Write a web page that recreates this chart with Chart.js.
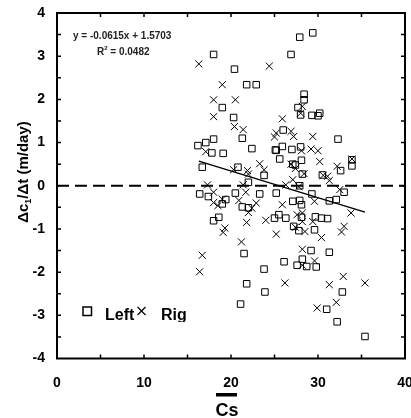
<!DOCTYPE html>
<html>
<head>
<meta charset="utf-8">
<script src="https://cdn.jsdelivr.net/npm/chart.js@4/dist/chart.umd.min.js"></script>
<style>
  html, body { margin: 0; padding: 0; background: #fff; }
  #wrap { width: 411px; height: 418px; }
</style>
</head>
<body>
<div id="wrap"><canvas id="chart" width="411" height="418"></canvas></div>
<script>
// Left wall points (squares)
const leftX = [29.4, 27.9, 18.0, 26.9, 20.4, 21.8, 22.9, 28.4, 28.4, 19.0, 27.7, 28.0, 29.3, 30.0, 30.2, 20.3,
    26.0, 32.3, 18.0, 21.3, 16.2, 17.1, 17.8, 19.1, 22.4, 25.1, 25.2, 25.9, 27.0, 28.0, 25.6, 27.1, 27.4, 28.1,
    33.9, 33.9, 16.7, 20.8, 23.8, 28.2, 30.5, 32.6, 22.0, 27.9, 16.4, 17.4, 20.5, 23.3, 25.2, 29.3, 33.0, 19.4,
    19.0, 21.3, 22.0, 27.1, 27.9, 28.1, 31.3, 32.1, 18.6, 18.0, 25.0, 25.5, 26.3, 28.1, 29.7, 30.4, 31.1, 27.2,
    27.8, 29.6, 21.5, 29.2, 31.3, 26.1, 28.2, 27.6, 28.7, 29.8, 23.8, 21.8, 23.9, 32.8, 21.1, 31.0, 32.2, 35.4];
const leftY = [3.54, 3.44, 3.04, 3.04, 2.70, 2.34, 2.34, 2.12, 1.99, 1.81, 1.81, 1.64, 1.63, 1.62, 1.68, 1.58,
    1.29, 1.08, 1.08, 1.10, 0.93, 1.00, 0.76, 0.75, 0.86, 0.83, 0.82, 0.91, 0.84, 0.90, 0.62, 0.50, 0.48, 0.59,
    0.60, 0.46, 0.43, 0.43, 0.24, 0.27, 0.25, 0.35, 0.08, 0.00, -0.19, -0.25, -0.17, -0.19, -0.17, -0.19, -0.15, -0.32,
    -0.42, -0.49, -0.51, -0.36, -0.34, -0.44, -0.35, -0.32, -0.73, -0.81, -0.75, -0.67, -0.75, -0.73, -0.72, -0.75, -0.76, -0.94,
    -1.04, -1.02, -1.57, -1.50, -1.54, -1.76, -1.70, -1.84, -1.87, -1.88, -1.93, -2.27, -2.46, -2.46, -2.74, -2.86, -3.15, -3.49];

// Right wall points (crosses)
const rightX = [16.3, 24.4, 19.0, 18.0, 20.5, 18.0, 28.2, 28.0, 25.9, 20.4, 21.4, 25.2, 25.0, 26.9, 27.2, 29.4,
    17.1, 29.2, 30.0, 28.1, 30.2, 23.3, 23.8, 20.3, 21.9, 22.0, 26.9, 27.4, 32.2, 33.9, 28.4, 30.6, 31.1, 31.3,
    27.1, 26.3, 17.3, 21.4, 27.8, 32.5, 21.7, 18.0, 18.0, 18.5, 19.0, 20.9, 22.9, 22.4, 22.0, 25.9, 28.2, 29.6,
    27.6, 28.2, 29.4, 33.8, 21.8, 24.0, 19.3, 19.1, 25.2, 27.4, 28.5, 30.4, 32.7, 33.0, 21.2, 16.7, 28.2, 16.4,
    29.6, 28.2, 26.2, 31.3, 32.9, 35.4, 29.9, 32.1];
const rightY = [2.82, 2.77, 2.34, 1.99, 1.99, 1.60, 1.84, 1.68, 1.55, 1.37, 1.30, 1.22, 1.13, 1.26, 1.14, 1.14,
    0.79, 0.85, 0.81, 0.81, 0.56, 0.51, 0.37, 0.37, 0.35, 0.27, 0.50, 0.40, 0.45, 0.62, 0.28, 0.24, 0.22, 0.12,
    0.14, 0.02, 0.02, 0.02, -0.02, -0.09, -0.15, -0.15, -0.39, -0.46, -0.31, -0.34, -0.40, -0.52, -0.62, -0.44, -0.63, -0.36,
    -0.67, -0.83, -0.83, -0.63, -0.85, -0.80, -0.98, -1.08, -1.12, -0.96, -1.06, -1.20, -1.07, -0.94, -1.30, -1.61, -1.47, -1.99,
    -1.74, -1.84, -2.25, -2.29, -2.10, -2.25, -2.83, -2.70];

// trend line ends and the dashed zero line
const trendX = [16.3, 35.4];
const trendY = [0.57, -0.61];
const zeroX = [0, 40];
const zeroY = [0, 0];

const xTicks = [0, 10, 20, 30, 40];
const yTicks = [-4, -3, -2, -1, 0, 1, 2, 3, 4];

const equationText = 'y = -0.0615x + 1.5703';
const r2Text = 'R';
const r2Value = ' = 0.0482';
const legendLabels = ['Left', 'Right'];

const FONT = '"Liberation Sans", Arial, sans-serif';

function toPoints(xs, ys) {
    return xs.map((x, i) => ({ x: x, y: ys[i] }));
}

// frame, inward ticks, texts and legend
const decorations = {
    id: 'decorations',
    afterDraw(chart) {
        const ctx = chart.ctx;
        const a = chart.chartArea;
        const xs = chart.scales.x;
        const ys = chart.scales.y;

        ctx.save();
        ctx.strokeStyle = '#000';
        ctx.lineWidth = 1.5;
        ctx.beginPath();
        for (let v = 5; v < 40; v += 5) {
            const px = xs.getPixelForValue(v);
            ctx.moveTo(px, a.bottom); ctx.lineTo(px, a.bottom - 4);
            ctx.moveTo(px, a.top); ctx.lineTo(px, a.top + 4);
        }
        for (let v = -3.5; v < 4; v += 0.5) {
            const py = ys.getPixelForValue(v);
            ctx.moveTo(a.left, py); ctx.lineTo(a.left + 4, py);
            ctx.moveTo(a.right, py); ctx.lineTo(a.right - 4, py);
        }
        ctx.stroke();
        ctx.lineWidth = 2;
        ctx.strokeRect(a.left, a.top, a.right - a.left, a.bottom - a.top);

        // equation
        ctx.fillStyle = '#222';
        ctx.textBaseline = 'middle';
        ctx.textAlign = 'left';
        ctx.font = 'bold 10px ' + FONT;
        ctx.fillText(equationText, 73, 36);
        ctx.fillText(r2Text, 97, 52);
        let w = ctx.measureText(r2Text).width;
        ctx.font = 'bold 6px ' + FONT;
        ctx.fillText('2', 97 + w, 48);
        w += ctx.measureText('2').width;
        ctx.font = 'bold 10px ' + FONT;
        ctx.fillText(r2Value, 97 + w, 52);

        // legend (clipped like the original box)
        ctx.save();
        ctx.beginPath();
        ctx.rect(70, 295, 117, 27);
        ctx.clip();
        ctx.fillStyle = '#000';
        ctx.lineWidth = 1.5;
        ctx.strokeRect(83, 307, 8.5, 8.5);
        ctx.lineWidth = 1.2;
        ctx.beginPath();
        ctx.moveTo(137.5, 307); ctx.lineTo(145.5, 315);
        ctx.moveTo(145.5, 307); ctx.lineTo(137.5, 315);
        ctx.stroke();
        ctx.font = 'bold 16px ' + FONT;
        ctx.textBaseline = 'alphabetic';
        ctx.fillText(legendLabels[0], 105, 320);
        ctx.fillText(legendLabels[1], 161, 320);
        ctx.restore();

        // x title with overbar
        ctx.fillStyle = '#000';
        ctx.fillRect(216, 393, 21, 3.5);
        ctx.font = 'bold 18px ' + FONT;
        ctx.textAlign = 'center';
        ctx.textBaseline = 'alphabetic';
        ctx.fillText('Cs', 227, 416);

        // y title
        ctx.translate(28, 172);
        ctx.rotate(-Math.PI / 2);
        const big = 'bold 15px ' + FONT;
        const small = 'bold 9px ' + FONT;
        const parts = [['\u0394c', big, 0], ['1', small, 3], ['/\u0394t (m/day)', big, 0]];
        let total = 0;
        parts.forEach(p => { ctx.font = p[1]; total += ctx.measureText(p[0]).width; });
        let cx = -total / 2;
        ctx.textAlign = 'left';
        parts.forEach(p => {
            ctx.font = p[1];
            ctx.fillText(p[0], cx, p[2]);
            cx += ctx.measureText(p[0]).width;
        });
        ctx.restore();
    }
};

new Chart(document.getElementById('chart').getContext('2d'), {
    type: 'scatter',
    data: {
        datasets: [
            {
                label: 'zero',
                type: 'line',
                data: toPoints(zeroX, zeroY),
                borderColor: '#000',
                borderWidth: 2,
                borderDash: [12, 6],
                pointRadius: 0,
                fill: false
            },
            {
                label: 'trend',
                type: 'line',
                data: toPoints(trendX, trendY),
                borderColor: '#000',
                borderWidth: 1.5,
                pointRadius: 0,
                fill: false
            },
            {
                label: legendLabels[0],
                data: toPoints(leftX, leftY),
                pointStyle: 'rect',
                pointRadius: 4.6,
                borderColor: '#000',
                backgroundColor: 'rgba(255,255,255,0)',
                borderWidth: 1
            },
            {
                label: legendLabels[1],
                data: toPoints(rightX, rightY),
                pointStyle: 'crossRot',
                pointRadius: 5,
                borderColor: '#000',
                backgroundColor: '#000',
                borderWidth: 1
            }
        ]
    },
    options: {
        responsive: false,
        animation: false,
        devicePixelRatio: 1,
        layout: { padding: { top: 13, right: 5.5, left: 0, bottom: 0 } },
        plugins: {
            legend: { display: false },
            tooltip: { enabled: false }
        },
        scales: {
            x: {
                type: 'linear',
                min: 0,
                max: 40,
                afterBuildTicks: scale => { scale.ticks = xTicks.map(v => ({ value: v })); },
                afterFit: scale => { scale.height = 59.5; scale.paddingLeft = 0; scale.paddingRight = 0; },
                grid: { display: false, drawTicks: false },
                border: { display: false },
                ticks: {
                    color: '#000',
                    padding: 16,
                    maxRotation: 0,
                    font: { family: FONT, size: 14, weight: 'bold' }
                }
            },
            y: {
                type: 'linear',
                min: -4,
                max: 4,
                afterBuildTicks: scale => { scale.ticks = yTicks.map(v => ({ value: v })); },
                afterFit: scale => { scale.width = 57; scale.paddingTop = 0; scale.paddingBottom = 0; },
                grid: { display: false, drawTicks: false },
                border: { display: false },
                ticks: {
                    color: '#000',
                    padding: 12,
                    font: { family: FONT, size: 14, weight: 'bold' }
                }
            }
        }
    },
    plugins: [decorations]
});
</script>
</body>
</html>
